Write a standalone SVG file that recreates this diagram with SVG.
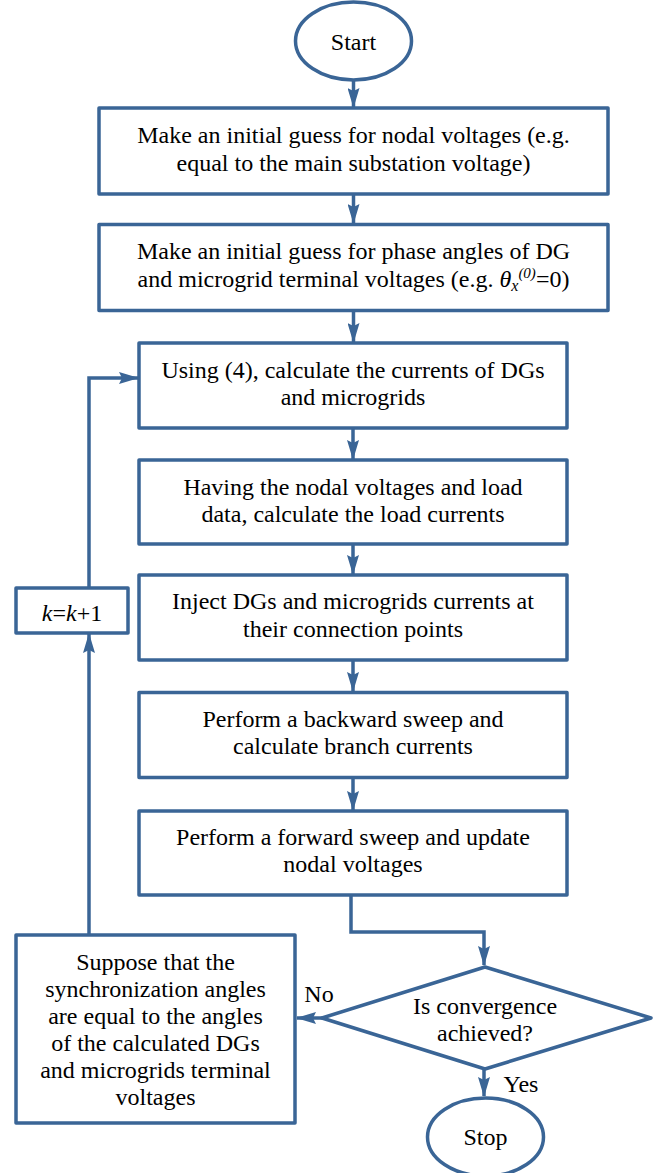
<svg xmlns="http://www.w3.org/2000/svg" width="671" height="1173" viewBox="0 0 671 1173">
<defs>
<style>
.shape{fill:#ffffff;stroke:#3A6596;stroke-width:3.5;stroke-linejoin:round}
.conn{fill:none;stroke:#3A6596;stroke-width:3.5;marker-end:url(#ah)}
.t{font-family:'Liberation Serif',Tinos,'DejaVu Serif',serif;font-size:24px;fill:#000000;text-anchor:middle}
.it{font-style:italic}
</style>
<marker id="ah" markerUnits="userSpaceOnUse" markerWidth="20" markerHeight="12" refX="19" refY="6" orient="auto">
<path d="M0,0 L20,6 L0,12 L3,6 z" fill="#3A6596"/>
</marker>
</defs>
<rect width="671" height="1173" fill="#ffffff"/>
<g id="connectors">
<path class="conn" d="M353.5,80 V107"/>
<path class="conn" d="M353.5,194 V223"/>
<path class="conn" d="M353.5,310 V342"/>
<path class="conn" d="M353,428 V459"/>
<path class="conn" d="M353,544 V574"/>
<path class="conn" d="M353,660 V691"/>
<path class="conn" d="M353,777 V810"/>
<path class="conn" d="M351,895 V932 H484 V965"/>
<path class="conn" d="M322,1018 H297"/>
<path class="conn" d="M484,1069 V1096"/>
<path class="conn" d="M89,934 V634"/>
<path class="conn" d="M89,587 V378 H138"/>
</g>
<g id="start">
<ellipse class="shape" cx="353.5" cy="41" rx="58" ry="39"/>
<text class="t" x="353.5" y="50">Start</text>
</g>
<g id="box1">
<rect class="shape" x="99" y="108" width="509" height="86"/>
<text class="t" x="353.5" y="143">Make an initial guess for nodal voltages (e.g.</text>
<text class="t" x="353.5" y="171">equal to the main substation voltage)</text>
</g>
<g id="box2">
<rect class="shape" x="99" y="224.5" width="509" height="86"/>
<text class="t" x="353.5" y="259">Make an initial guess for phase angles of DG</text>
<text class="t" x="353.5" y="287">and microgrid terminal voltages (e.g. <tspan class="it">θ</tspan><tspan class="it" font-size="16" dy="4">x</tspan><tspan class="it" font-size="15" dy="-13">(0)</tspan><tspan dy="9">=0)</tspan></text>
</g>
<g id="box3">
<rect class="shape" x="139" y="343" width="428" height="85"/>
<text class="t" x="353" y="378">Using (4), calculate the currents of DGs</text>
<text class="t" x="353" y="405">and microgrids</text>
</g>
<g id="box4">
<rect class="shape" x="139" y="460" width="428" height="84"/>
<text class="t" x="353" y="495">Having the nodal voltages and load</text>
<text class="t" x="353" y="522">data, calculate the load currents</text>
</g>
<g id="box5">
<rect class="shape" x="139" y="575" width="428" height="85"/>
<text class="t" x="353" y="609">Inject DGs and microgrids currents at</text>
<text class="t" x="353" y="637">their connection points</text>
</g>
<g id="box6">
<rect class="shape" x="139" y="692.5" width="428" height="85"/>
<text class="t" x="353" y="727">Perform a backward sweep and</text>
<text class="t" x="353" y="754">calculate branch currents</text>
</g>
<g id="box7">
<rect class="shape" x="139" y="811" width="428" height="84"/>
<text class="t" x="353" y="845">Perform a forward sweep and update</text>
<text class="t" x="353" y="872">nodal voltages</text>
</g>
<g id="decision">
<polygon class="shape" points="485,967 651,1018 485,1069 322,1018"/>
<text class="t" x="485" y="1014">Is convergence</text>
<text class="t" x="485" y="1041">achieved?</text>
</g>
<g id="labels">
<text class="t" x="319" y="1002">No</text>
<text class="t" x="521" y="1092">Yes</text>
</g>
<g id="update">
<rect class="shape" x="16" y="935" width="279" height="188"/>
<text class="t" x="155.5" y="970">Suppose that the</text>
<text class="t" x="155.5" y="997">synchronization angles</text>
<text class="t" x="155.5" y="1024">are equal to the angles</text>
<text class="t" x="155.5" y="1051">of the calculated DGs</text>
<text class="t" x="155.5" y="1078">and microgrids terminal</text>
<text class="t" x="155.5" y="1105">voltages</text>
</g>
<g id="increment">
<rect class="shape" x="16" y="588" width="112" height="45"/>
<text class="t" x="72" y="621"><tspan class="it">k</tspan>=<tspan class="it">k</tspan>+1</text>
</g>
<g id="stop">
<ellipse class="shape" cx="485.5" cy="1137" rx="58" ry="39"/>
<text class="t" x="485.5" y="1145">Stop</text>
</g>
</svg>
